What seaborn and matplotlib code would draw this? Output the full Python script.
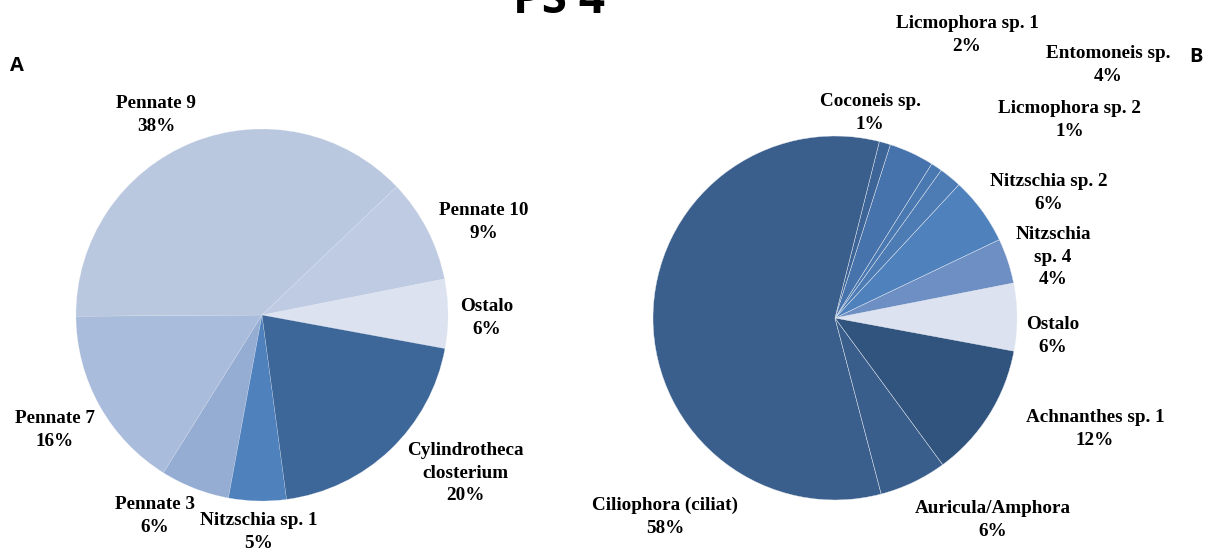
import matplotlib
matplotlib.use("Agg")
import matplotlib.pyplot as plt
import seaborn as sns

# Data

labels_a = ["Ostalo", "Pennate 10", "Pennate 9", "Pennate 7", "Pennate 3",
            "Nitzschia sp. 1", "Cylindrotheca\nclosterium"]
values_a = [6, 9, 38, 16, 6, 5, 20]
colors_a = ["#dce2ef", "#bfcbe2", "#b9c7df", "#aabcdb", "#95acd3", "#4f81bd", "#3d6699"]

labels_b = ["Ostalo", "Nitzschia\nsp. 4", "Nitzschia sp. 2", "Licmophora sp. 1",
            "Licmophora sp. 2", "Entomoneis sp.", "Coconeis sp.",
            "Ciliophora (ciliat)", "Auricula/Amphora", "Achnanthes sp. 1"]
values_b = [6, 4, 6, 2, 1, 4, 1, 58, 6, 12]
colors_b = ["#dce2ef", "#6d8fc3", "#4f81bd", "#4d7cb5", "#4a78b0", "#4673ab",
            "#3e6597", "#3b5f8c", "#3a5e8b", "#31547e"]

# label centres in pixels (x, y from top)
pos_a = [(487, 318), (484, 222), (156, 115), (55, 430), (155, 516),
         (259, 532), (465, 473)]
pos_b = [(1053, 336), (1053, 257), (1049, 193), (967, 35), (1070, 120),
         (1108, 65), (870, 113), (665, 517), (993, 520), (1095, 429)]

W, H = 1209, 552

sns.set_theme(style="white")
plt.rcParams["font.family"] = ["Liberation Serif", "DejaVu Serif"]

fig = plt.figure(figsize=(W / 100, H / 100), dpi=100)


def draw_pie(cx, cy, r, values, colors, start, lw):
    ax = fig.add_axes([(cx - r) / W, (H - cy - r) / H, 2 * r / W, 2 * r / H])
    ax.pie(values, colors=colors, startangle=start, counterclock=True,
           radius=1, wedgeprops=dict(edgecolor="#e8edf5", linewidth=lw))
    ax.set_xlim(-1, 1)
    ax.set_ylim(-1, 1)
    ax.set_axis_off()
    return ax


def put_labels(labels, values, positions):
    for lab, val, (x, y) in zip(labels, values, positions):
        fig.text(x / W, 1 - y / H, f"{lab}\n{val}%", ha="center", va="center",
                 fontsize=13.8, fontweight="bold", linespacing=1.42,
                 color="black")


draw_pie(262, 315, 186, values_a, colors_a, -10.4, 0.15)
draw_pie(835, 318, 182, values_b, colors_b, -10.5, 0.3)
put_labels(labels_a, values_a, pos_a)
put_labels(labels_b, values_b, pos_b)

fig.text(17 / W, 1 - 66 / H, "A", ha="center", va="center", fontsize=14.5,
         fontweight="bold", family="Open Sans", color="black")
fig.text(1196 / W, 1 - 57 / H, "B", ha="center", va="center", fontsize=14.5,
         fontweight="bold", family="Open Sans", color="black")
fig.text(559 / W, 1 - 13 / H, "PS 4", ha="center", va="baseline", fontsize=33,
         fontweight="bold", family="Open Sans", color="black")

fig.savefig("out.png", dpi=100, facecolor="white")
